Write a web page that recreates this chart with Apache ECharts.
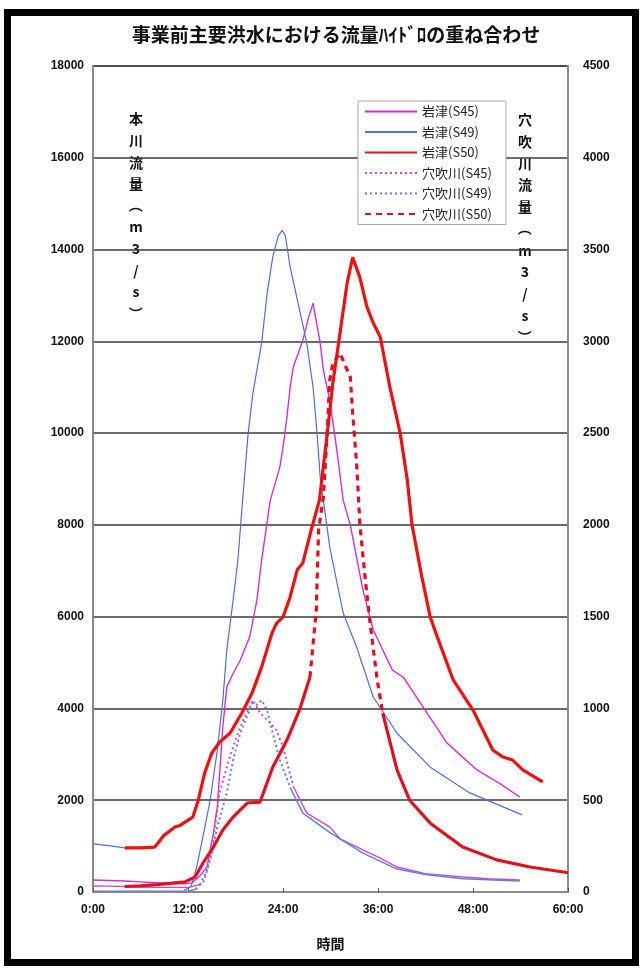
<!DOCTYPE html>
<html>
<head>
<meta charset="utf-8">
<script src="https://cdn.jsdelivr.net/npm/echarts@6/dist/echarts.min.js"></script>
<style>
html,body{margin:0;padding:0;background:#fff;}
#chart{width:640px;height:968px;}
</style>
</head>
<body>
<div id="chart"></div>
<script>
// ---- data (hours, discharge m3/s) ----
const titleText = '事業前主要洪水における流量ﾊｲﾄﾞﾛの重ね合わせ';
const xTicks = [0, 12, 24, 36, 48, 60];
const leftAxisName = ['本','川','流','量','（','m','3','/','s','）'];
const rightAxisName = ['穴','吹','川','流','量','（','m','3','/','s','）'];
const seriesNames = ['岩津(S45)','岩津(S49)','岩津(S50)','穴吹川(S45)','穴吹川(S49)','穴吹川(S50)'];

// 岩津 (main river, left axis)
const iwatsuS45 = [[0,260],[2,250],[4,240],[6,220],[8,200],[10,185],[11.5,180],[12.5,200],[13.5,350],[14.4,545],[15.2,1280],[15.7,1850],[16.0,2590],[16.4,3600],[16.9,4470],[17.8,4800],[18.6,5050],[19.8,5560],[20.7,6360],[21.3,7230],[22.4,8540],[23.6,9260],[24.0,9690],[24.5,10350],[24.9,11000],[25.3,11440],[26.5,12020],[27.2,12500],[27.8,12830],[28.7,11960],[29.1,11370],[29.9,10720],[30.8,9630],[31.6,8540],[32.5,8000],[34.1,6580],[35.4,5710],[37.8,4840],[39.2,4680],[41.7,4030],[44.7,3250],[48.5,2660],[51.5,2350],[53.9,2070]];
const iwatsuS49 = [[0,1050],[2,1010],[4,960],[4.1,null],[11.5,40],[12.4,120],[13.1,545],[14.0,1300],[14.8,2000],[15.7,3090],[16.4,4180],[16.9,5270],[17.7,6360],[18.3,7230],[18.9,8540],[19.6,10000],[20.2,10870],[21.3,11960],[22.0,13050],[22.7,13834],[23.4,14300],[23.9,14420],[24.3,14300],[24.9,13620],[26.1,12680],[27.0,11960],[27.8,11000],[28.3,10000],[28.7,9040],[29.9,7520],[31.6,6080],[33.3,5340],[35.4,4250],[38.4,3460],[42.6,2720],[47.6,2160],[54.2,1680]];
const iwatsuS50 = [[4,960],[6,960],[7.8,980],[9,1240],[10.4,1420],[11,1450],[12.6,1630],[13.3,2000],[14.1,2590],[15.0,3030],[16.0,3270],[17.3,3460],[18.8,3900],[20.1,4340],[21.3,4900],[22.6,5640],[23.2,5860],[24.0,5990],[24.9,6430],[25.8,7020],[26.5,7170],[27.5,7850],[28.6,8540],[29.6,10000],[30.3,11090],[31.2,12180],[32.1,13270],[32.8,13830],[33.7,13400],[34.6,12750],[35.4,12400],[36.3,12090],[36.6,11810],[37.5,11000],[38.8,10000],[39.7,8976],[40.3,8000],[41.5,6900],[42.6,5990],[43.5,5555],[45.5,4620],[48.0,3965],[50.5,3094],[51.8,2940],[53.0,2875],[54.3,2660],[56.8,2400]];

// 穴吹川 (tributary, right axis)
const anabukiS45 = [[0,33],[2,32],[4,30],[6,27],[8,25],[10,25],[12,25],[13.5,40],[14.4,120],[15.0,230],[16.0,540],[16.9,680],[17.7,790],[18.3,865],[19.0,940],[19.8,1010],[20.2,1045],[21.1,975],[22.4,920],[23.2,880],[24.0,790],[25.3,575],[27.0,430],[29.9,355],[31.2,290],[34.1,229],[36.3,185],[38.4,136],[42.0,100],[46.7,82],[50.0,72],[53.9,65]];
const anabukiS49 = [[0,5],[4,5],[8,5],[12,5],[13,15],[14,60],[15,200],[15.7,355],[16.9,540],[17.7,720],[18.6,865],[19.4,950],[20.2,1030],[20.7,1020],[21.3,1045],[22.0,990],[22.7,865],[23.6,720],[24.9,570],[26.5,430],[29.9,325],[34.1,212],[38.4,125],[42.0,95],[46.7,72],[53.9,60]];
const anabukiS50 = [[4,30],[6,33],[8,40],[10,48],[11.6,55],[12.9,82],[13.9,158],[15.2,245],[16.4,338],[17.7,408],[18.2,430],[19.5,485],[21.1,490],[22.7,680],[24.5,828],[26.1,993],[27.4,1170],[28.2,1535],[28.5,1973],[29.1,2150],[29.6,2515],[29.9,2788],[30.3,2880],[31.2,2935],[32.5,2805],[32.8,2608],[33.3,2335],[33.7,2010],[34.4,1700],[35.0,1465],[35.9,1155],[36.6,975],[38.4,665],[40.0,500],[42.6,375],[46.7,245],[51.0,175],[55.2,136],[59.4,109],[60,105]];

// ---- chart ----
const FONT = '"Liberation Sans", Arial, "Noto Sans CJK JP", sans-serif';
const JP = '"Noto Sans CJK JP", "Liberation Sans", sans-serif';
const chart = echarts.init(document.getElementById('chart'), null, {renderer:'canvas'});

// vertical (tategaki) axis title: one text element per character, brackets turned
function vtext(chars, x, y, gap){
  return chars.map((ch, i) => {
    const br = (ch === '（' || ch === '）');
    return {type:'text', x:x, y:y + i*gap, rotation: br ? -Math.PI/2 : 0,
      style:{text:ch, font:'bold 14px ' + JP, fill:'#111', align:'center', verticalAlign:'middle'}};
  });
}
// In the original workbook the dashed/dotted pattern only shows on steep parts
// (dense points make flat parts look solid); split each tributary series by time.
function within(data, a, b){ return data.map(p => (p[0] >= a && p[0] <= b) ? p : [p[0], null]); }
function outside(data, a, b){ return data.map(p => (p[0] <= a || p[0] >= b) ? p : [p[0], null]); }

const C_MAG = '#cc33cc', C_BLUE = '#4f6fd8', C_RED = '#ee1111';
function line(name, data, color, width, type, yIdx){
  return {name:name, type:'line', data:data, yAxisIndex:yIdx, symbol:'circle', showSymbol:false,
    lineStyle:{color:color, width:width, type:type}, itemStyle:{color:'rgba(0,0,0,0)', borderWidth:0},
    connectNulls:false, animation:false, z:3};
}

chart.setOption({
  animation:false,
  backgroundColor:'#fff',
  title:{text:titleText, left:331, top:20, textAlign:'center', textStyle:{fontFamily:JP, fontSize:19, fontWeight:'bold', color:'#111'}},
  grid:{left:93, right:72, top:66, bottom:76, show:true, borderColor:'#8a8a8a', borderWidth:2, backgroundColor:'#fff'},
  legend:{orient:'vertical', left:358, top:101, itemWidth:52, itemHeight:12, itemGap:7.5,
    backgroundColor:'#fff', borderColor:'#aaa', borderWidth:1, padding:[4,14,4,6],
    textStyle:{fontFamily:JP, fontSize:13, color:'#222'}, data:seriesNames},
  xAxis:{type:'value', min:0, max:60, interval:12, name:'時間', nameLocation:'middle', nameGap:45,
    nameTextStyle:{fontFamily:JP, fontSize:14, fontWeight:'bold', color:'#111'},
    axisLine:{show:true, lineStyle:{color:'#8a8a8a', width:2}},
    axisTick:{show:true, inside:true, length:4, lineStyle:{color:'#555'}},
    axisLabel:{formatter:v=>v+':00', fontFamily:FONT, fontSize:12, fontWeight:'bold', color:'#111', margin:12},
    splitLine:{show:false}},
  yAxis:[
    {type:'value', min:0, max:18000, interval:2000, position:'left',
     axisLine:{show:true, lineStyle:{color:'#8a8a8a', width:2}}, axisTick:{show:false},
     axisLabel:{formatter:v=>String(v), fontFamily:FONT, fontSize:12, fontWeight:'bold', color:'#111', margin:9},
     splitLine:{show:true, lineStyle:{color:'#3a3a3a', width:1.5}}},
    {type:'value', min:0, max:4500, interval:500, position:'right',
     axisLine:{show:true, lineStyle:{color:'#8a8a8a', width:2}}, axisTick:{show:false},
     axisLabel:{formatter:v=>String(v), fontFamily:FONT, fontSize:12, fontWeight:'bold', color:'#111', margin:15},
     splitLine:{show:false}}
  ],
  graphic:[
    {type:'rect', left:4, top:9, shape:{width:628, height:950}, style:{fill:'none', stroke:'#000', lineWidth:7}, silent:true}
  ].concat(vtext(leftAxisName, 136, 119, 21.6)).concat(vtext(rightAxisName, 525, 120, 21.7)),
  series:[
    line(seriesNames[0], iwatsuS45, C_MAG, 1.4, 'solid', 0),
    line(seriesNames[1], iwatsuS49, C_BLUE, 1.2, 'solid', 0),
    line(seriesNames[2], iwatsuS50, C_RED, 3.2, 'solid', 0),
    line(seriesNames[3], within(anabukiS45, 13.5, 25.3), '#c050c8', 2, [2,3], 1),
    line(seriesNames[4], within(anabukiS49, 13, 24.9), '#6a7ad0', 2, [2,3], 1),
    line(seriesNames[5], within(anabukiS50, 27.4, 36.6), '#e01020', 3.2, [6,5], 1),
    line(seriesNames[3], outside(anabukiS45, 13.5, 25.3), '#c050c8', 1.4, 'solid', 1),
    line(seriesNames[4], outside(anabukiS49, 13, 24.9), '#6a7ad0', 1.4, 'solid', 1),
    line(seriesNames[5], outside(anabukiS50, 27.4, 36.6), '#e01020', 3.2, 'solid', 1)
  ]
});
</script>
</body>
</html>
